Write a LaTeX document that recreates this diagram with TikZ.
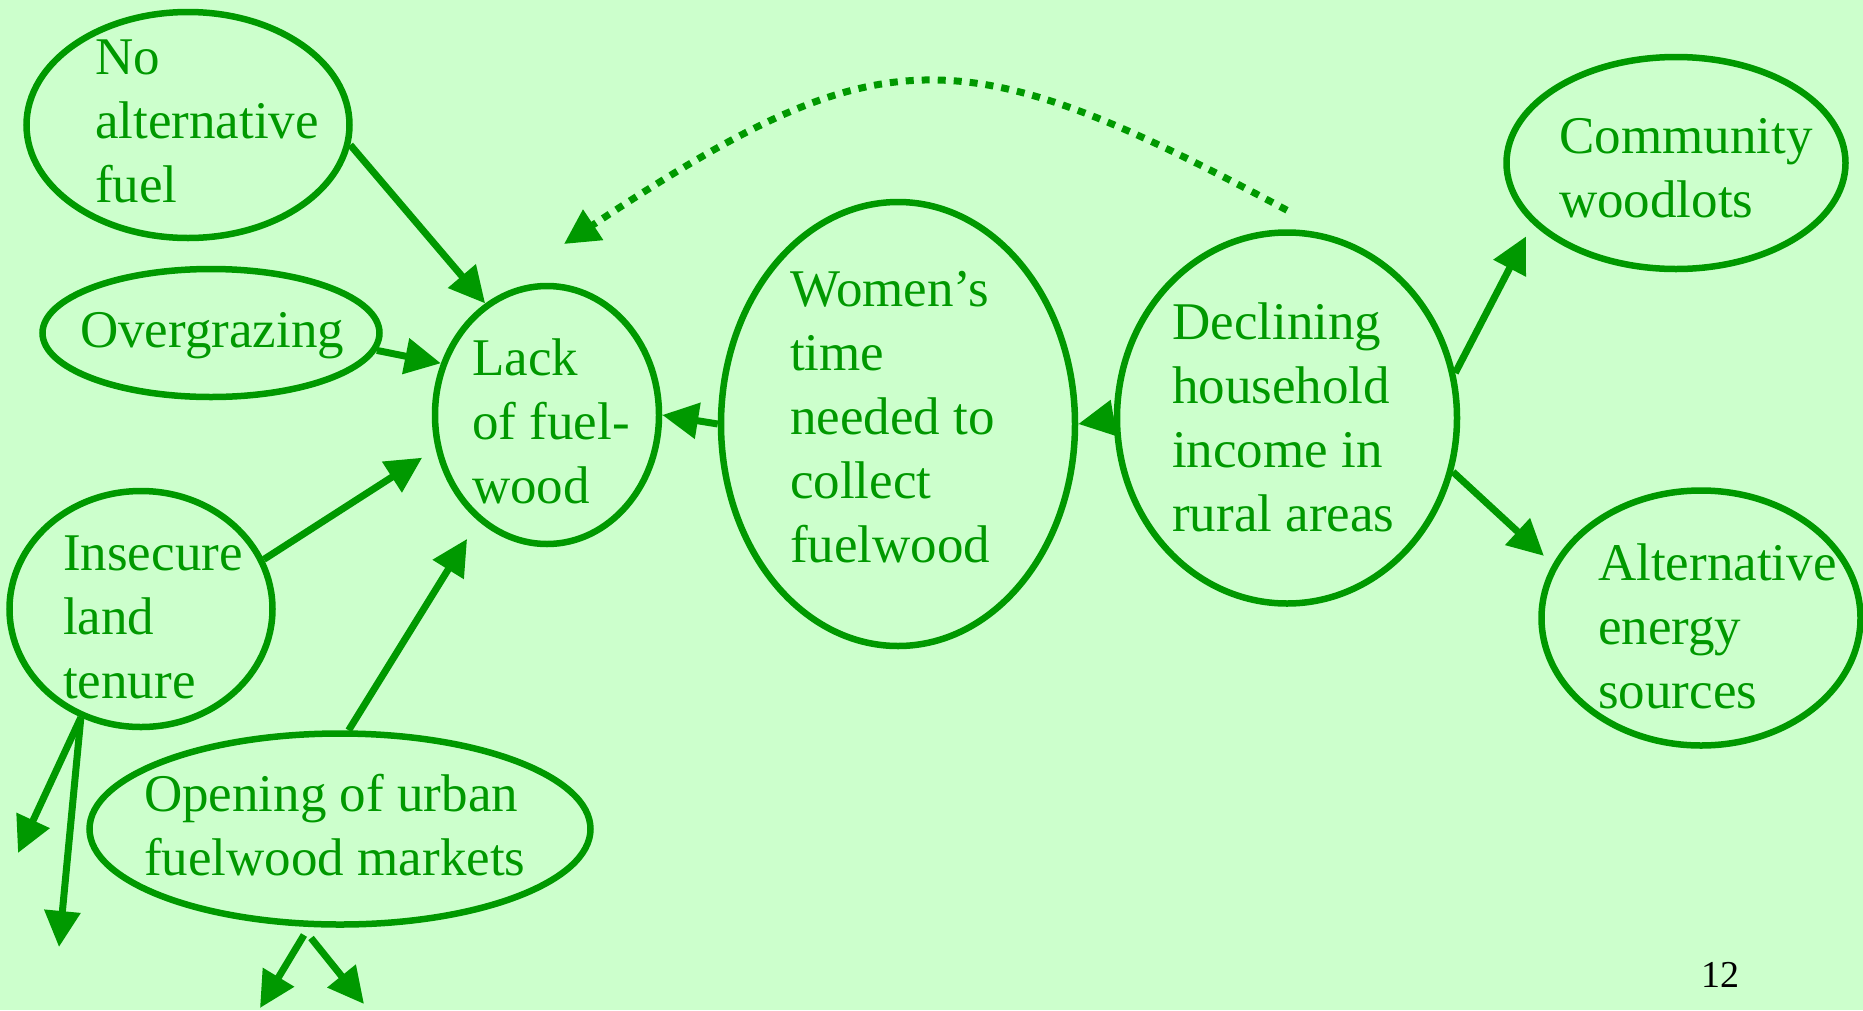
\documentclass[tikz,border=0pt]{standalone}
\usepackage{fontspec}
\setmainfont{Liberation Serif}
\usetikzlibrary{arrows.meta,shapes.geometric}
\definecolor{leaf}{HTML}{009900}
\definecolor{mint}{HTML}{CCFFCC}
\tikzset{
  oval/.style={ellipse,draw=leaf,line width=6.5pt,inner sep=0pt},
  words/.style={text=leaf,font=\fontsize{53}{64}\selectfont,align=left,anchor=west,inner sep=0pt},
  link/.style={draw=leaf,line width=7pt,-{Triangle[length=36pt,width=35pt]}},
  dots/.style={draw=leaf,line width=7pt,dash pattern=on 8pt off 8pt,-{Triangle[length=35pt,width=35pt]}},
}
\begin{document}
\begin{tikzpicture}[x=1pt,y=-1pt]
	\useasboundingbox (0,0) rectangle (1863,1010);
	\fill[mint] (0,0) rectangle (1863,1010);
	% ovals
	\node[oval,minimum width=323pt,minimum height=226pt] (noalt) at (188,125) {};
	\node[oval,minimum width=337pt,minimum height=128pt] (graze) at (211,333) {};
	\node[oval,minimum width=224pt,minimum height=258pt] (lack) at (547,415) {};
	\node[oval,minimum width=354pt,minimum height=444pt] (women) at (898,424) {};
	\node[oval,minimum width=340pt,minimum height=371pt] (income) at (1287,418) {};
	\node[oval,minimum width=339pt,minimum height=212pt] (woodlot) at (1676,163) {};
	\node[oval,minimum width=319pt,minimum height=255pt] (energy) at (1701,618) {};
	\node[oval,minimum width=263pt,minimum height=236pt] (tenure) at (141,609) {};
	\node[oval,minimum width=501pt,minimum height=191pt] (market) at (340,829) {};
	% texts
	\node[words] (noalt-t) at (95,121) {No\\alternative\\fuel};
	\node[words] (graze-t) at (80,336) {Overgrazing};
	\node[words] (lack-t) at (472,421) {Lack\\of fuel-\\wood};
	\node[words] (women-t) at (790,417) {Women’s\\time\\needed to\\collect\\fuelwood};
	\node[words] (income-t) at (1172,417) {Declining\\household\\income in\\rural areas};
	\node[words] (woodlot-t) at (1559,168) {Community\\woodlots};
	\node[words] (energy-t) at (1598,626) {Alternative\\energy\\sources};
	\node[words] (tenure-t) at (63,617) {Insecure\\land\\tenure};
	\node[words] (market-t) at (144,825) {Opening of urban\\fuelwood markets};
	\node[font=\fontsize{38}{45}\selectfont,inner sep=0pt] (pagenum) at (1720,975) {12};
	% causes
	\draw[link] (noalt.-7) -- (lack.119);
	\draw[link] (graze.-6) -- (lack.154);
	\draw[link,shorten >=16pt] (tenure.22) -- (lack.197);
	\draw[link,shorten >=21pt] (market.85) -- (lack.-123);
	\draw[link] (women.west) -- (lack.east);
	\draw[link] (income.west) -- (women.east);
	\draw[link,shorten >=14pt] (income.15) -- (woodlot.203);
	\draw[link,shorten >=12pt] (income.-18) -- (energy.160);
	% feedback
	\coordinate (loopend) at (564,244);
	\draw[dots] ([yshift=19pt]income.north) .. controls (958,34) and (882,34) .. (loopend);
	% loose ends
	\coordinate (tenure-a) at (18,853);
	\coordinate (tenure-b) at (59,947);
	\coordinate (market-a0) at (304,935);
	\coordinate (market-b0) at (311,938);
	\coordinate (market-a) at (260,1008);
	\coordinate (market-b) at (364,1004);
	\draw[link] (tenure.-119) -- (tenure-a);
	\draw[link] (tenure.-119) -- (tenure-b);
	\draw[link] (market-a0) -- (market-a);
	\draw[link] (market-b0) -- (market-b);
\end{tikzpicture}
\end{document}
